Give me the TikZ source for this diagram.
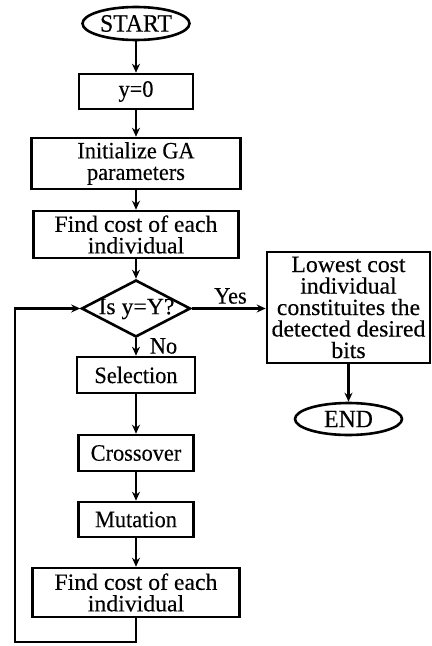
\documentclass[tikz,border=0pt]{standalone}
\usepackage{fontspec}
\setmainfont{Liberation Serif}[FakeStretch=0.95,FakeBold=0.3]
\newfontfamily\widefont{Liberation Serif}[FakeStretch=1.02,FakeBold=0.3]
\usetikzlibrary{shapes.geometric,arrows.meta}
\tikzset{
  base/.style={font=\fontsize{23.5bp}{21.5bp}\selectfont, inner sep=0pt, align=center},
  widebase/.style={font=\widefont\fontsize{23.3bp}{21.5bp}\selectfont, inner sep=0pt, align=center},
  box/.style={base, draw, line width=2.6bp, rectangle},
  widebox/.style={widebase, draw, line width=2.6bp, rectangle},
  term/.style={base, font=\fontsize{25bp}{22bp}\selectfont, draw, line width=2.6bp, ellipse},
  decision/.style={draw, line width=2.6bp, diamond, inner sep=0pt},
  arr/.style={line width=2.6bp, -{Stealth[length=9bp,width=8bp,inset=3bp]}},
  lbl/.style={base},
}
\begin{document}
\begin{tikzpicture}[x=1bp,y=-1bp]
\useasboundingbox (0,0) rectangle (431,646);
\node[term, minimum width=107bp, minimum height=33bp] (start) at (136,23.5) {START};
\node[box, minimum width=114bp, minimum height=35bp] (y0) at (136,91.5) {y=0};
\node[box, minimum width=209bp, minimum height=51bp] (init) at (136,163.5) {Initialize GA\\parameters};
\node[widebox, minimum width=205bp, minimum height=47bp] (find1) at (136,234.5) {Find cost of each\\individual};
\node[decision, minimum width=109bp, minimum height=57bp] (dec) at (136,308.5) {};
\node[widebase] (dectext) at (136.5,309) {Is y=Y?};
\node[widebox, minimum width=163bp, minimum height=111bp] (low) at (348.5,307.5) {Lowest cost\\individual\\constituites the\\detected desired\\bits};
\node[term, minimum width=107bp, minimum height=32bp] (end) at (348.5,419) {END};
\node[box, minimum width=118bp, minimum height=36bp] (sel) at (136,375) {Selection};
\node[box, minimum width=115bp, minimum height=36bp] (cross) at (136,453) {Crossover};
\node[box, minimum width=115bp, minimum height=35bp] (mut) at (136,519.5) {Mutation};
\node[widebox, minimum width=207bp, minimum height=49bp] (find2) at (136,592.5) {Find cost of each\\individual};
\node[lbl] (yes) at (230.5,296) {Yes};
\node[lbl] (no) at (163.5,346) {No};
\coordinate (lb) at (15,642);

\draw[arr] (start) -- (y0);
\draw[arr] (y0) -- (init);
\draw[arr] (init) -- (find1);
\draw[arr] (find1) -- (dec.north);
\draw[arr] (dec.south) -- (sel);
\draw[arr] (sel) -- (cross);
\draw[arr] (cross) -- (mut);
\draw[arr] (mut) -- (find2);
\draw[arr] (dec.east) -- (dec.east -| low.west);
\draw[arr] (low) -- (end);
\draw[arr] (find2.south) -- (find2.south |- lb) -- (lb) |- (dec.west);
\end{tikzpicture}
\end{document}
